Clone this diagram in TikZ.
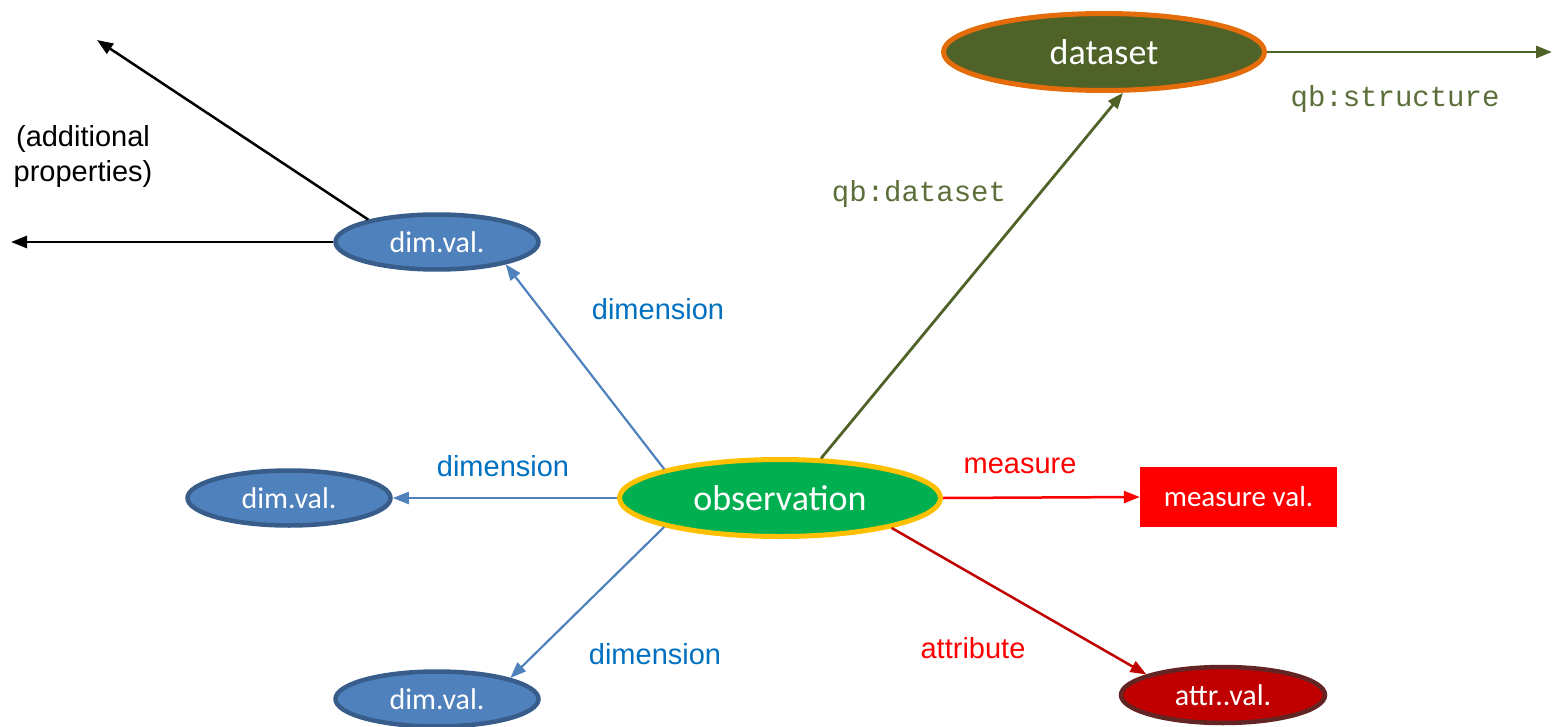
\documentclass[tikz,border=0pt]{standalone}
\usepackage{fontspec}
\setmainfont{Liberation Sans}
\newfontfamily\calib{Carlito}
\newfontfamily\cour{Liberation Mono}
\usetikzlibrary{shapes.geometric,arrows.meta}
\definecolor{olive}{HTML}{4F6228}
\definecolor{qbolive}{HTML}{5C6E3A}
\definecolor{dorange}{HTML}{E46C0A}
\definecolor{obsgreen}{HTML}{00B050}
\definecolor{obsgold}{HTML}{FFC000}
\definecolor{dimblue}{HTML}{4F81BD}
\definecolor{dimborder}{HTML}{385D8A}
\definecolor{lblblue}{HTML}{0070C0}
\definecolor{attrred}{HTML}{C00000}
\definecolor{attrborder}{HTML}{632523}
\tikzset{
  x=1pt,y=-1pt,
  bigell/.style={ellipse,minimum width=321pt,minimum height=77pt,inner sep=0pt,line width=5pt,text=white,font=\calib\fontsize{36}{40}\selectfont},
  dimell/.style={ellipse,minimum width=203pt,minimum height=55pt,inner sep=0pt,line width=4.5pt,fill=dimblue,draw=dimborder,text=white,font=\calib\fontsize{30}{34}\selectfont},
  lbl/.style={font=\fontsize{29}{35}\selectfont},
  qblbl/.style={font=\cour\fontsize{29}{35}\selectfont,text=qbolive},
  tip/.style={-{Triangle[length=16pt,width=12pt]}},
  bluearr/.style={tip,draw=dimblue,line width=2.2pt},
  blackarr/.style={tip,draw=black,line width=2.5pt},
}
\begin{document}
\begin{tikzpicture}
\useasboundingbox (0,0) rectangle (1560,727);
% nodes
\node[bigell,fill=olive,draw=dorange] (dataset) at (1104,52) {dataset};
\node[bigell,fill=obsgreen,draw=obsgold] (obs) at (780,498) {observation};
\node[dimell] (dimtop) at (437,242) {dim.val.};
\node[dimell] (dimmid) at (289,498) {dim.val.};
\node[dimell] (dimbot) at (437,699) {dim.val.};
\node[rectangle,fill=red,minimum width=197pt,minimum height=60pt,inner sep=0pt,text=white,font=\calib\fontsize{29}{33}\selectfont] (meas) at (1238.5,497) {measure val.};
\node[ellipse,minimum width=204pt,minimum height=56pt,inner sep=0pt,line width=4.5pt,fill=attrred,draw=attrborder,text=white,font=\calib\fontsize{30}{34}\selectfont] (attr) at (1223,695) {attr..val.};
\coordinate (endstruct) at (1552,52);
\coordinate (endup) at (97,40);
\coordinate (endleft) at (11,242);
% connectors
\draw[tip,draw=olive,line width=2.8pt] (obs.44) -- (dataset.295);
\draw[tip,draw=olive,line width=2.8pt] (dataset.east) -- (endstruct);
\draw[bluearr] (obs.166) -- (dimtop.342);
\draw[bluearr] (obs.west) -- (dimmid.east);
\draw[bluearr] (obs.194) -- (dimbot.16);
\draw[tip,draw=red,line width=2.5pt] (obs.east) -- (meas.west);
\draw[tip,draw=attrred,line width=2.5pt] (obs.-15) -- (attr.165);
\draw[blackarr] (dimtop.162) -- (endup);
\draw[blackarr] (dimtop.west) -- (endleft);
% labels
\node[lbl,align=center] (addl) at (83,157) {(additional\\properties)};
\node[lbl,text=lblblue] (ldimtop) at (658,309) {dimension};
\node[lbl,text=lblblue] (ldimmid) at (503,466) {dimension};
\node[lbl,text=lblblue] (ldimbot) at (655,654) {dimension};
\node[lbl,text=red] (lmeas) at (1020,466) {measure};
\node[lbl,text=red] (lattr) at (973,648) {attribute};
\node[qblbl] (lds) at (919,194) {qb:dataset};
\node[qblbl] (lstruct) at (1395,99) {qb:structure};
\end{tikzpicture}
\end{document}
